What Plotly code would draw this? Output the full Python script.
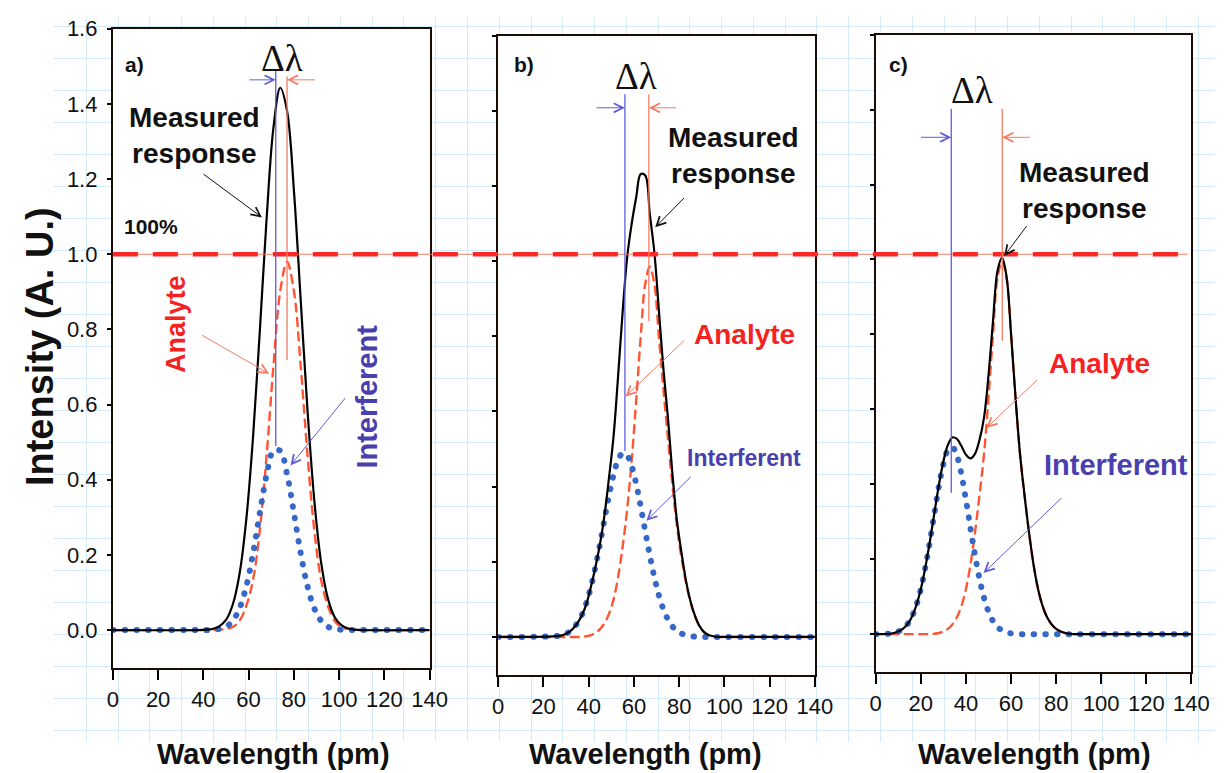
import plotly.graph_objects as go

# ---------------- data ----------------
# panel a)
wavelength_a = [0, 38, 41, 44, 47, 50, 53, 56, 59, 62, 65, 68, 71, 74, 77, 80, 83, 86, 89, 92, 95, 98, 101, 104, 107, 110, 140]
measured_a = [0, 0, 0.001, 0.003, 0.010, 0.027, 0.068, 0.150, 0.296, 0.517, 0.800, 1.099, 1.338, 1.443, 1.381, 1.172, 0.881, 0.588, 0.348, 0.182, 0.085, 0.035, 0.013, 0.004, 0.001, 0, 0]
analyte_a = [0, 0, 0, 0, 0.001, 0.003, 0.008, 0.025, 0.065, 0.135, 0.268, 0.468, 0.705, 0.903, 0.980, 0.903, 0.705, 0.468, 0.268, 0.135, 0.065, 0.025, 0.008, 0.003, 0.001, 0, 0]
interferent_a = [0, 0, 0, 0.001, 0.003, 0.009, 0.025, 0.058, 0.117, 0.205, 0.313, 0.414, 0.477, 0.477, 0.414, 0.313, 0.205, 0.117, 0.058, 0.025, 0.009, 0.003, 0.001, 0, 0, 0, 0]

# panel b)
wavelength_b = [0, 27, 29, 31, 33, 35, 37, 39, 41, 43, 45, 47, 49, 51, 53, 55, 57, 59, 61, 63, 65, 67, 69, 71, 73, 75, 77, 79, 81, 83, 85, 87, 89, 91, 93, 95, 97, 99, 140]
measured_b = [0, 0.003, 0.006, 0.012, 0.022, 0.037, 0.058, 0.088, 0.134, 0.187, 0.248, 0.325, 0.425, 0.535, 0.695, 0.865, 1.010, 1.100, 1.170, 1.232, 1.228, 1.125, 1.025, 0.870, 0.715, 0.585, 0.435, 0.310, 0.225, 0.150, 0.095, 0.056, 0.029, 0.013, 0.005, 0.002, 0, 0, 0]
analyte_b = [0, 0, 0, 0, 0, 0, 0, 0.002, 0.005, 0.011, 0.021, 0.037, 0.062, 0.100, 0.160, 0.240, 0.340, 0.470, 0.630, 0.800, 0.940, 0.985, 0.940, 0.800, 0.660, 0.530, 0.405, 0.295, 0.210, 0.145, 0.092, 0.054, 0.028, 0.013, 0.005, 0.002, 0, 0, 0]
interferent_b = [0, 0.003, 0.006, 0.012, 0.022, 0.037, 0.059, 0.091, 0.134, 0.187, 0.248, 0.314, 0.377, 0.432, 0.471, 0.489, 0.483, 0.454, 0.407, 0.346, 0.281, 0.217, 0.159, 0.111, 0.074, 0.047, 0.028, 0.016, 0.009, 0.005, 0.002, 0.001, 0, 0, 0, 0, 0, 0, 0]

# panel c)
wavelength_c = [0, 6, 8, 10, 12, 14, 16, 18, 20, 22, 24, 26, 28, 30, 32, 34, 36, 38, 40, 42, 44, 46, 48, 50, 52, 54, 56, 58, 60, 62, 64, 66, 68, 70, 72, 74, 76, 78, 80, 82, 84, 86, 88, 90, 140]
measured_c = [0, 0.001, 0.003, 0.007, 0.014, 0.026, 0.046, 0.077, 0.120, 0.178, 0.247, 0.323, 0.398, 0.461, 0.505, 0.525, 0.521, 0.502, 0.479, 0.469, 0.481, 0.518, 0.577, 0.690, 0.835, 0.969, 1.005, 0.955, 0.802, 0.631, 0.480, 0.370, 0.270, 0.185, 0.120, 0.075, 0.045, 0.026, 0.014, 0.007, 0.003, 0.001, 0, 0, 0]
analyte_c = [0, 0, 0, 0, 0, 0, 0, 0, 0, 0, 0, 0.001, 0.003, 0.007, 0.014, 0.026, 0.045, 0.075, 0.120, 0.185, 0.270, 0.370, 0.480, 0.630, 0.800, 0.950, 0.995, 0.950, 0.800, 0.630, 0.480, 0.370, 0.270, 0.185, 0.120, 0.075, 0.045, 0.026, 0.014, 0.007, 0.003, 0.001, 0, 0, 0]
interferent_c = [0, 0.001, 0.003, 0.007, 0.014, 0.026, 0.046, 0.077, 0.120, 0.178, 0.247, 0.322, 0.395, 0.454, 0.491, 0.499, 0.476, 0.427, 0.359, 0.284, 0.211, 0.148, 0.097, 0.060, 0.035, 0.019, 0.010, 0.005, 0.002, 0.001, 0, 0, 0, 0, 0, 0, 0, 0, 0, 0, 0, 0, 0, 0, 0]

x_tick_values = [0, 20, 40, 60, 80, 100, 120, 140]
y_tick_values = [0.0, 0.2, 0.4, 0.6, 0.8, 1.0, 1.2, 1.4, 1.6]
panel_labels = ["a)", "b)", "c)"]
interferent_peak = [72.0, 56.0, 33.5]
analyte_peak = [77.0, 66.6, 56.1]
reference_level = 1.0

# ---------------- styles ----------------
FONT = "Liberation Sans, Arial, Helvetica, sans-serif"
SERIF = "Liberation Serif, Times New Roman, serif"
ANALYTE_LINE = "#ff5533"
ANALYTE_TEXT = "#f52222"
ANALYTE_THIN = "#f47a62"
INTER_DOTS = "#3568c8"
INTER_TEXT = "#4a3fae"
INTER_THIN = "#5f5dd4"
REF_RED = "#ff2626"
GRID = "#d3ebf8"
FRAME = "#1a0d08"
W, H = 1232, 773

panels = [
    (wavelength_a, measured_a, analyte_a, interferent_a),
    (wavelength_b, measured_b, analyte_b, interferent_b),
    (wavelength_c, measured_c, analyte_c, interferent_c),
]
# pixel frames of the three panels: (left, right, top, bottom)
frames = [(109, 432, 17, 666), (502, 825, 24, 673), (887, 1209, 23, 670)]

fig = go.Figure()
# background graph-paper subplot (needs a trace to exist)
fig.add_trace(go.Scatter(x=[None], y=[None], xaxis="x", yaxis="y",
                         showlegend=False, hoverinfo="skip"))

for i, (wl, me, an, it) in enumerate(panels):
    s = str(i + 2)
    fig.add_trace(go.Scatter(x=wl, y=an, mode="lines", name="Analyte",
                             line=dict(color=ANALYTE_LINE, width=2.4, dash="8px,6.5px", shape="spline"),
                             xaxis="x" + s, yaxis="y" + s, showlegend=False))
    fig.add_trace(go.Scatter(x=wl, y=it, mode="lines", name="Interferent",
                             line=dict(color=INTER_DOTS, width=6, dash="0.5px,11.2px", shape="spline"),
                             xaxis="x" + s, yaxis="y" + s, showlegend=False))
    fig.add_trace(go.Scatter(x=wl, y=me, mode="lines", name="Measured response",
                             line=dict(color="black", width=2.2, shape="spline"),
                             xaxis="x" + s, yaxis="y" + s, showlegend=False))

layout = dict(
    width=W, height=H, margin=dict(l=0, r=0, t=0, b=0),
    paper_bgcolor="white", plot_bgcolor="white", showlegend=False,
    xaxis=dict(domain=[49 / W, 1], range=[49, W], tick0=49.5, dtick=32.4,
               showgrid=True, gridcolor=GRID, gridwidth=1, zeroline=False,
               showticklabels=False, ticks="", showline=False, fixedrange=True),
    yaxis=dict(domain=[(H - 742) / H, (H - 5) / H], range=[742, 5], tick0=15, dtick=32.5,
               showgrid=True, gridcolor=GRID, gridwidth=1, zeroline=False,
               showticklabels=False, ticks="", showline=False, fixedrange=True),
)
for i, (l, r, t, b) in enumerate(frames):
    s = str(i + 2)
    layout["xaxis" + s] = dict(
        domain=[l / W, r / W], anchor="y" + s, range=[0, 140], tickvals=x_tick_values,
        ticks="outside", ticklen=10, tickwidth=1.5, tickcolor="black",
        showline=True, linecolor=FRAME, linewidth=2, mirror=True,
        showgrid=False, zeroline=False, ticklabelstandoff=1,
        tickfont=dict(family=FONT, size=22, color="#111111"))
    layout["yaxis" + s] = dict(
        domain=[(H - b) / H, (H - t) / H], anchor="x" + s, range=[-0.1, 1.6],
        tickvals=y_tick_values, tickformat=".1f",
        ticks="outside", ticklen=4, tickwidth=1.5, tickcolor="black",
        showticklabels=(i == 0), ticklabelstandoff=5,
        showline=True, linecolor=FRAME, linewidth=2, mirror=True,
        showgrid=False, zeroline=False,
        tickfont=dict(family=FONT, size=22, color="#111111"))
fig.update_layout(**layout)

shapes = []
# 100 % reference line spanning the three panels
shapes.append(dict(type="line", xref="paper", yref="y2", x0=109 / W, x1=1205 / W,
                   y0=reference_level, y1=reference_level, line=dict(color=ANALYTE_THIN, width=1.2)))
shapes.append(dict(type="line", xref="paper", yref="y2", x0=109 / W, x1=1205 / W,
                   y0=reference_level, y1=reference_level, line=dict(color=REF_RED, width=4.5, dash="25px,15px")))
# peak markers
blue_span = [(0.49, 1.489), (0.495, 1.444), (0.377, 1.402)]
red_span = [(0.718, 1.473), (0.841, 1.444), (0.783, 1.402)]
for i in range(3):
    s = str(i + 2)
    shapes.append(dict(type="line", xref="x" + s, yref="y" + s, x0=interferent_peak[i], x1=interferent_peak[i],
                       y0=blue_span[i][0], y1=blue_span[i][1], line=dict(color=INTER_THIN, width=1.3)))
    shapes.append(dict(type="line", xref="x" + s, yref="y" + s, x0=analyte_peak[i], x1=analyte_peak[i],
                       y0=red_span[i][0], y1=red_span[i][1], line=dict(color=ANALYTE_THIN, width=1.3)))
fig.update_layout(shapes=shapes)

ann = []


def arrow(i, xt, yt, xh, yh, color):
    s = str(i + 2)
    ann.append(dict(x=xh, y=yh, ax=xt, ay=yt, xref="x" + s, yref="y" + s, axref="x" + s, ayref="y" + s,
                    text="", showarrow=True, arrowhead=5, arrowsize=1.8, arrowwidth=1,
                    arrowcolor=color, standoff=0))


def label(i, x, y, text, size, color, angle=0, family=FONT):
    s = str(i + 2)
    ann.append(dict(x=x, y=y, xref="x" + s, yref="y" + s, text=text, showarrow=False,
                    xanchor="center", yanchor="middle",
                    textangle=angle, font=dict(family=family, size=size, color=color)))


# delta-lambda arrows
dl_y = [1.464, 1.408, 1.326]
blue_tail = [59.7, 42.8, 19.4]
red_tail = [90.0, 79.3, 69.1]
for i in range(3):
    arrow(i, blue_tail[i], dl_y[i], interferent_peak[i], dl_y[i], INTER_THIN)
    arrow(i, red_tail[i], dl_y[i], analyte_peak[i], dl_y[i], ANALYTE_THIN)

# panel a
label(0, 9.5, 1.505, "<b>a)</b>", 21, "#111111")
label(0, 74.6, 1.52, "Δλ", 37, "#111111", family=SERIF)
label(0, 36.0, 1.316, "<b>Measured<br>response</b>", 28, "#111111")
arrow(0, 39.4, 1.216, 65.9, 1.098, "#111111")
label(0, 16.9, 1.075, "<b>100%</b>", 21, "#111111")
label(0, 27.7, 0.813, "<b>Analyte</b>", 27, ANALYTE_TEXT, angle=-90)
arrow(0, 38.7, 0.787, 69.1, 0.682, ANALYTE_THIN)
label(0, 112.3, 0.621, "<b>Interferent</b>", 29, INTER_TEXT, angle=-90)
arrow(0, 103.2, 0.621, 78.5, 0.438, INTER_THIN)

# panel b
label(1, 11.3, 1.523, "<b>b)</b>", 21, "#111111")
label(1, 60.7, 1.49, "Δλ", 37, "#111111", family=SERIF)
label(1, 104.0, 1.282, "<b>Measured<br>response</b>", 28, "#111111")
arrow(1, 82.8, 1.172, 69.4, 1.090, "#111111")
label(1, 108.8, 0.805, "<b>Analyte</b>", 28, ANALYTE_TEXT)
arrow(1, 82.8, 0.792, 56.3, 0.640, ANALYTE_THIN)
label(1, 108.8, 0.477, "<b>Interferent</b>", 23, INTER_TEXT)
arrow(1, 85.8, 0.430, 65.5, 0.309, INTER_THIN)

# panel c
label(2, 10.0, 1.520, "<b>c)</b>", 21, "#111111")
label(2, 42.6, 1.452, "Δλ", 37, "#111111", family=SERIF)
label(2, 92.6, 1.185, "<b>Measured<br>response</b>", 28, "#111111")
arrow(2, 67.4, 1.093, 57.0, 1.009, "#111111")
label(2, 99.1, 0.721, "<b>Analyte</b>", 28, ANALYTE_TEXT)
arrow(2, 72.2, 0.682, 49.1, 0.550, ANALYTE_THIN)
label(2, 106.5, 0.451, "<b>Interferent</b>", 29, INTER_TEXT)
arrow(2, 83.0, 0.367, 47.8, 0.163, INTER_THIN)

# axis titles
ann.append(dict(x=34 / W, y=1 - 340 / H, xref="paper", yref="paper", text="<b>Intensity (A. U.)</b>",
                xanchor="center", yanchor="middle",
                showarrow=False, textangle=-90, font=dict(family=FONT, size=38, color="#111111")))
for cx in [273, 652, 1049]:
    ann.append(dict(x=cx / W, y=1 - 754 / H, xref="paper", yref="paper", text="<b>Wavelength (pm)</b>",
                    xanchor="center", yanchor="middle",
                    showarrow=False, font=dict(family=FONT, size=29, color="#111111")))
fig.update_layout(annotations=ann)

post = (
    "document.body.style.margin='0';"
    "var gd=document.getElementById('{plot_id}');"
    "gd.querySelectorAll('.scatterlayer .js-line').forEach(function(p){p.style.strokeLinecap='round';});"
)
fig.write_html("out.html", include_plotlyjs=True, config={"displayModeBar": False}, post_script=post)
